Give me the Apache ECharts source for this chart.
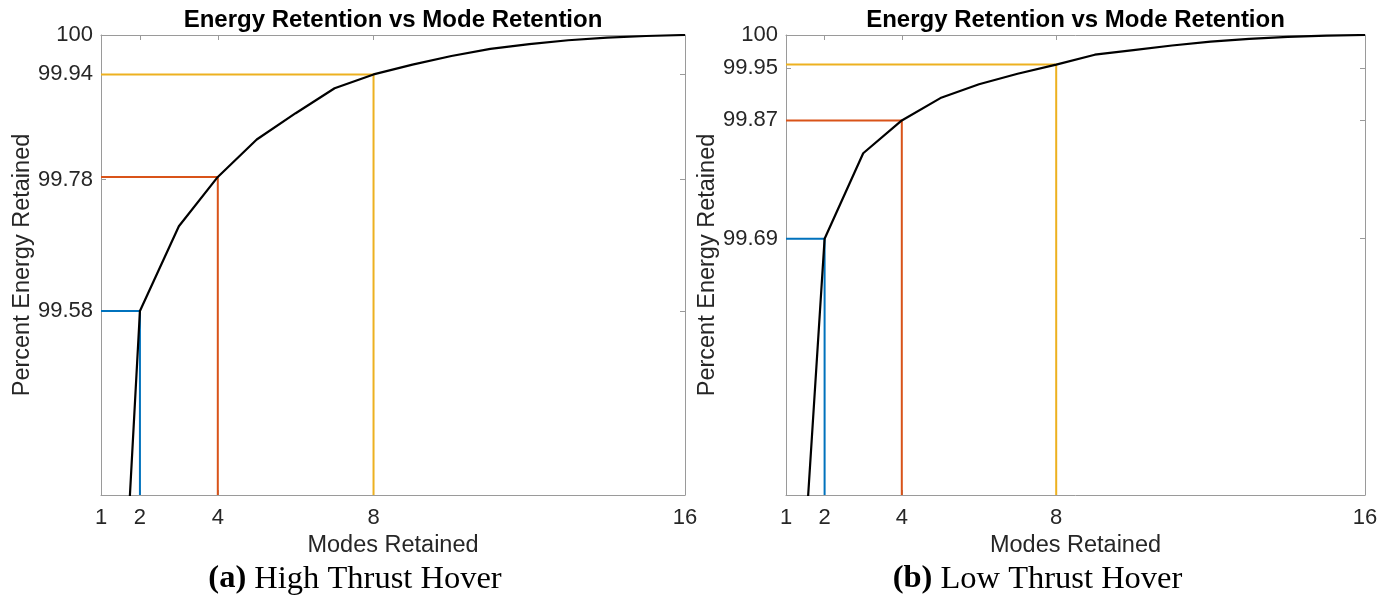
<!DOCTYPE html>
<html>
<head>
<meta charset="utf-8">
<script src="https://cdn.jsdelivr.net/npm/echarts@6/dist/echarts.min.js"></script>
<style>
html,body{margin:0;padding:0;background:#fff;}
#c{width:1396px;height:608px;}
</style>
</head>
<body>
<div id="c"></div>
<script>
// ---- data ----
const modes = [1,2,3,4,5,6,7,8,9,10,11,12,13,14,15,16];
const highThrust = [98.49, 99.58, 99.709, 99.784, 99.841, 99.881, 99.919, 99.94, 99.955, 99.968, 99.979, 99.986, 99.992, 99.996, 99.9985, 100];
const lowThrust  = [98.773, 99.69, 99.82, 99.87, 99.904, 99.925, 99.941, 99.955, 99.970, 99.977, 99.984, 99.990, 99.994, 99.997, 99.999, 100];
const markModes = [2, 4, 8];
const markColors = ['#0072BD', '#D95319', '#EDB120'];
const xTicks = [1, 2, 4, 8, 16];
const highYTicks = [99.58, 99.78, 99.94, 100];
const lowYTicks = [99.69, 99.87, 99.95, 100];
const yMin = 99.3, yMax = 100;
const titleText = 'Energy Retention vs Mode Retention';
const xName = 'Modes Retained';
const yName = 'Percent Energy Retained';
const captions = [['(a)', ' High Thrust Hover'], ['(b)', ' Low Thrust Hover']];

const FONT = "'Liberation Sans', Arial, Helvetica, sans-serif";
const SERIF = "'Liberation Serif', 'Times New Roman', serif";
const TXT = '#262626';
const AX = '#9a9a9a';

const grids = [
  {left: 101, top: 35, width: 584, height: 460},
  {left: 786, top: 35, width: 579, height: 460}
];
const yTickSets = [highYTicks, lowYTicks];
const dataSets = [highThrust, lowThrust];

const xAxes = [], yAxes = [], series = [], graphics = [];
grids.forEach((g, gi) => {
  xAxes.push({
    gridIndex: gi, type: 'value', min: 1, max: 16, position: 'bottom',
    name: xName, nameLocation: 'middle', nameGap: 39,
    nameTextStyle: {fontFamily: FONT, fontSize: 23.5, color: TXT},
    axisLine: {show: true, onZero: false, lineStyle: {color: AX, width: 1}},
    axisTick: {show: true, inside: true, length: 5, customValues: xTicks, lineStyle: {color: AX}},
    axisLabel: {show: true, customValues: xTicks, margin: 12, fontFamily: FONT, fontSize: 22, color: TXT},
    splitLine: {show: false}
  });
  xAxes.push({
    gridIndex: gi, type: 'value', min: 1, max: 16, position: 'top',
    axisLine: {show: true, onZero: false, lineStyle: {color: AX, width: 1}},
    axisTick: {show: true, inside: true, length: 5, customValues: xTicks, lineStyle: {color: AX}},
    axisLabel: {show: false},
    splitLine: {show: false}
  });
  yAxes.push({
    gridIndex: gi, type: 'value', min: yMin, max: yMax, position: 'left',
    name: yName, nameLocation: 'middle', nameGap: 66, nameRotate: 90,
    nameTextStyle: {fontFamily: FONT, fontSize: 23.5, color: TXT},
    axisLine: {show: true, onZero: false, lineStyle: {color: AX, width: 1}},
    axisTick: {show: true, inside: true, length: 5, customValues: yTickSets[gi], lineStyle: {color: AX}},
    axisLabel: {show: true, customValues: yTickSets[gi], margin: 8, fontFamily: FONT, fontSize: 22, color: TXT,
      formatter: v => (Math.abs(v - 100) < 1e-9 ? '100' : Number(v).toFixed(2))},
    splitLine: {show: false}
  });
  yAxes.push({
    gridIndex: gi, type: 'value', min: yMin, max: yMax, position: 'right',
    axisLine: {show: true, onZero: false, lineStyle: {color: AX, width: 1}},
    axisTick: {show: true, inside: true, length: 5, customValues: yTickSets[gi], lineStyle: {color: AX}},
    axisLabel: {show: false},
    splitLine: {show: false}
  });
  const vals = dataSets[gi];
  markModes.forEach((m, k) => {
    const v = vals[modes.indexOf(m)];
    series.push({
      type: 'line', xAxisIndex: gi * 2, yAxisIndex: gi * 2,
      data: [[1, v], [m, v], [m, yMin]],
      symbol: 'none', silent: true, z: 2,
      lineStyle: {color: markColors[k], width: 2}
    });
  });
  series.push({
    type: 'line', xAxisIndex: gi * 2, yAxisIndex: gi * 2,
    data: modes.map((m, i) => [m, vals[i]]),
    symbol: 'none', silent: true, clip: true, z: 3,
    lineStyle: {color: '#000', width: 2.2}
  });
  const cx = g.left + g.width / 2;
  graphics.push({
    type: 'text', x: cx, y: 20,
    style: {text: titleText, font: "bold 24px " + FONT, fill: '#000', align: 'center', verticalAlign: 'middle'}
  });
  graphics.push({
    type: 'text', x: cx - 38, y: 579,
    style: {
      text: '{b|' + captions[gi][0] + '}{n|' + captions[gi][1] + '}',
      align: 'center', verticalAlign: 'middle',
      rich: {
        b: {fontFamily: SERIF, fontWeight: 'bold', fontSize: 32.5, fill: '#000'},
        n: {fontFamily: SERIF, fontSize: 32.5, fill: '#000'}
      }
    }
  });
});

const chart = echarts.init(document.getElementById('c'), null, {renderer: 'canvas'});
chart.setOption({
  animation: false,
  backgroundColor: '#fff',
  grid: grids,
  xAxis: xAxes,
  yAxis: yAxes,
  series: series,
  graphic: graphics
});
</script>
</body>
</html>
